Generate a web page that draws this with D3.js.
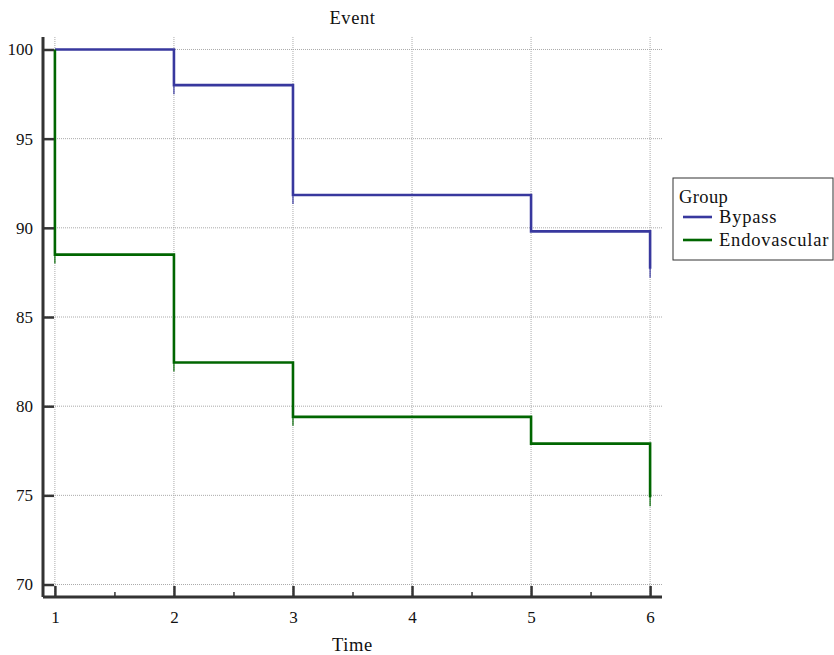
<!DOCTYPE html>
<html>
<head>
<meta charset="utf-8">
<script src="https://cdn.jsdelivr.net/npm/d3@7"></script>
<style>
  body { margin: 0; background: #fff; }
  text { font-family: "Liberation Serif", "DejaVu Serif", serif; fill: #111; }
</style>
</head>
<body>
<script>
// survival steps
var groups = ["Bypass", "Endovascular"];
var bypassTime = [1, 2, 3, 5, 6];
var bypassSurv = [100, 98.0, 91.84, 89.8, 87.7];
var endoTime = [1, 1, 2, 3, 5, 6];
var endoSurv = [100, 88.5, 82.45, 79.4, 77.9, 74.9];
// censor marks (time, value)
var bypassCensT = [2, 3, 6];
var bypassCensV = [98.0, 91.84, 87.7];
var endoCensT = [1, 2, 3, 6];
var endoCensV = [88.5, 82.45, 79.4, 74.9];
var xTicks = [1, 2, 3, 4, 5, 6];
var yTicks = [70, 75, 80, 85, 90, 95, 100];
var colors = ["#38389e", "#006600"];

var W = 834, H = 655;
var margin = {top: 37, right: 172, bottom: 58, left: 43};
var w = W - margin.left - margin.right;
var h = H - margin.top - margin.bottom;

var svg = d3.select('body').append('svg')
    .attr('width', W)
    .attr('height', H);

var g = svg.append('g')
    .attr('transform', 'translate(' + margin.left + ',' + margin.top + ')');

var x = d3.scaleLinear().domain([0.9, 6.1]).range([0, w]);
var y = d3.scaleLinear().domain([69.3, 100.7]).range([h, 0]);

// grid
g.selectAll('.gx').data(xTicks).enter().append('line')
    .attr('x1', d => x(d)).attr('x2', d => x(d))
    .attr('y1', 0).attr('y2', h)
    .attr('stroke', '#aaa').attr('stroke-width', 1)
    .attr('stroke-dasharray', '1,1');
g.selectAll('.gy').data(yTicks).enter().append('line')
    .attr('x1', 0).attr('x2', w)
    .attr('y1', d => y(d)).attr('y2', d => y(d))
    .attr('stroke', '#aaa').attr('stroke-width', 1)
    .attr('stroke-dasharray', '1,1');

// curves
var line = d3.line()
    .x(d => x(d[0]))
    .y(d => y(d[1]))
    .curve(d3.curveStepAfter);

var series = [
    {pts: d3.zip(bypassTime, bypassSurv), cens: d3.zip(bypassCensT, bypassCensV), c: colors[0]},
    {pts: d3.zip(endoTime, endoSurv), cens: d3.zip(endoCensT, endoCensV), c: colors[1]}
];

series.forEach(function(s) {
    g.append('path')
        .attr('d', line(s.pts))
        .attr('fill', 'none')
        .attr('stroke', s.c)
        .attr('stroke-width', 2.6);
    g.selectAll(null).data(s.cens).enter().append('line')
        .attr('x1', d => x(d[0])).attr('x2', d => x(d[0]))
        .attr('y1', d => y(d[1]) - 9).attr('y2', d => y(d[1]) + 9)
        .attr('stroke', s.c)
        .attr('stroke-width', 1.2);
});

// axes
var xAxis = d3.axisBottom(x).tickValues(xTicks).tickSize(-11).tickPadding(20).tickFormat(d3.format('d'));
var gx = g.append('g').attr('transform', 'translate(0,' + h + ')').call(xAxis);
var xMinor = d3.axisBottom(x).tickValues([1.5, 2.5, 3.5, 4.5, 5.5]).tickSize(-5).tickFormat('');
var gxm = g.append('g').attr('transform', 'translate(0,' + h + ')').call(xMinor);
var yAxis = d3.axisLeft(y).tickValues(yTicks).tickSize(-11).tickPadding(20);
var gy = g.append('g').call(yAxis);

[gx, gxm, gy].forEach(function(a) {
    a.select('.domain').attr('stroke', '#333').attr('stroke-width', 3);
    a.selectAll('.tick line').attr('stroke', '#333').attr('stroke-width', 2.5);
    a.selectAll('.tick text').style('font-family', '"Liberation Serif", serif')
        .style('font-size', '17px').attr('fill', '#111');
});
gx.select('.domain').attr('d', 'M0,0H' + w);
gxm.select('.domain').remove();
gxm.selectAll('.tick line').attr('stroke-width', 1.5);
gy.select('.domain').attr('d', 'M0,0V' + h);
gx.selectAll('.tick text').attr('dy', '0.71em').attr('y', 14);
gy.selectAll('.tick text').attr('x', -10);

// title and axis label
svg.append('text')
    .attr('x', margin.left + w / 2).attr('y', 24)
    .attr('text-anchor', 'middle')
    .style('font-size', '18.5px').style('letter-spacing', '0.6px')
    .text('Event');
svg.append('text')
    .attr('x', margin.left + w / 2).attr('y', 651)
    .attr('text-anchor', 'middle')
    .style('font-size', '18.5px').style('letter-spacing', '0.6px')
    .text('Time');

// legend
var lg = svg.append('g').attr('transform', 'translate(673,178)');
lg.append('rect')
    .attr('width', 160).attr('height', 82)
    .attr('fill', '#fff').attr('stroke', '#333').attr('stroke-width', 1);
lg.append('text').attr('x', 6).attr('y', 25)
    .style('font-size', '18.5px').style('letter-spacing', '0.4px').text('Group');
groups.forEach(function(name, i) {
    lg.append('line')
        .attr('x1', 10).attr('x2', 39)
        .attr('y1', 39 + i * 23).attr('y2', 39 + i * 23)
        .attr('stroke', colors[i]).attr('stroke-width', 2.6);
    lg.append('text').attr('x', 46).attr('y', 45 + i * 23)
        .style('font-size', '18.5px').style('letter-spacing', '0.8px').text(name);
});
</script>
</body>
</html>
